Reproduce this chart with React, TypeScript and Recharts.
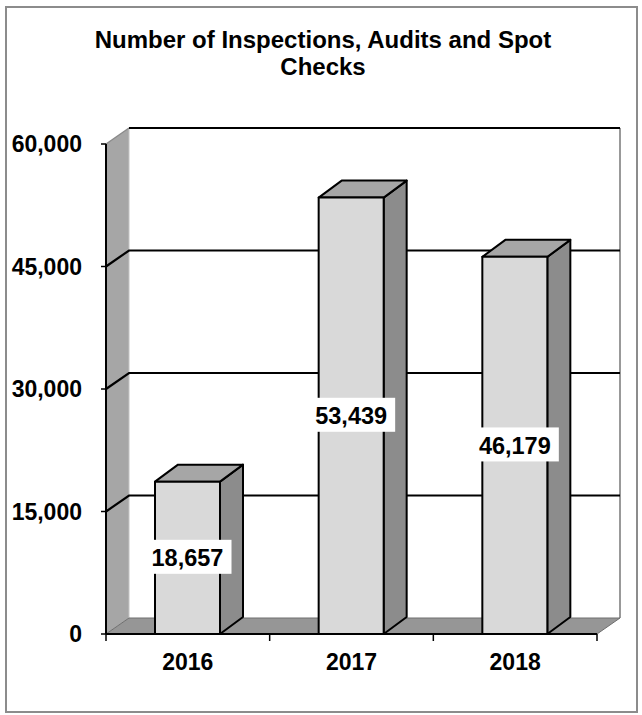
import React from 'react';
import { BarChart, Bar, XAxis, YAxis, CartesianGrid, LabelList } from 'recharts';

const YEARS = ['2016', '2017', '2018'];
const INSPECTIONS = [18657, 53439, 46179];
const Y_TICKS = [0, 15000, 30000, 45000, 60000];
const TITLE_LINES = ['Number of Inspections, Audits and Spot', 'Checks'];

const data = YEARS.map((year, i) => ({ year, value: INSPECTIONS[i] }));

const WIDTH = 642;
const HEIGHT = 715;
// front plane of the 3d box
const PLOT = { left: 106, top: 144, right: 597, bottom: 634 };
const Y_AXIS_W = 100;
const X_AXIS_H = 40;
const X_TICK_MARGIN = 20;
const WALL_DX = 23;
const WALL_DY = 16;
const BAR_DX = 23;
const BAR_DY = 17;

const FONT = '"Liberation Sans", Arial, Helvetica, sans-serif';
const fmt = (v: number) => Number(v).toLocaleString('en-US');

// walls, floor and back-wall gridlines, all drawn from the grid's line coords
const gridLine = (props: any) => {
  const { x1, y1, x, y, width, height } = props;
  const left = x ?? x1;
  const bottom = (y ?? PLOT.top) + (height ?? PLOT.bottom - PLOT.top);
  const top = y ?? PLOT.top;
  const right = left + (width ?? PLOT.right - PLOT.left);

  if (Math.abs(y1 - bottom) < 0.5) {
    return (
      <g key="walls">
        <polygon
          points={`${left},${top} ${left + WALL_DX},${top - WALL_DY} ${left + WALL_DX},${bottom - WALL_DY} ${left},${bottom}`}
          fill="#a6a6a6"
        />
        <rect x={left + WALL_DX} y={top - WALL_DY} width={right - left} height={bottom - top} fill="#fff" />
        <line x1={left + WALL_DX} x2={left + WALL_DX} y1={top - WALL_DY} y2={bottom - WALL_DY} stroke="#c4c4c4" strokeWidth={1} />
        <line x1={right + WALL_DX} x2={right + WALL_DX} y1={top - WALL_DY} y2={bottom - WALL_DY} stroke="#999" strokeWidth={2} />
        <line x1={left} y1={top} x2={left + WALL_DX} y2={top - WALL_DY} stroke="#8a8a8a" strokeWidth={1.5} />
        <polygon
          points={`${left},${bottom} ${left + WALL_DX},${bottom - WALL_DY} ${right + WALL_DX},${bottom - WALL_DY} ${right},${bottom}`}
          fill="#969696"
          stroke="#6e6e6e"
          strokeWidth={1}
        />
      </g>
    );
  }
  const isTop = Math.abs(y1 - top) < 0.5;
  const d = isTop
    ? `M${left + WALL_DX},${y1 - WALL_DY} L${right + WALL_DX},${y1 - WALL_DY}`
    : `M${left},${y1} L${left + WALL_DX},${y1 - WALL_DY} L${right + WALL_DX},${y1 - WALL_DY}`;
  return <path key={`g-${y1}`} d={d} stroke="#000" strokeWidth={2.2} fill="none" />;
};

const Box3D = (props: any) => {
  const { x, y, width, height } = props;
  if (!height || height <= 0) return null;
  const r = x + width;
  const b = y + height;
  return (
    <g stroke="#000" strokeWidth={2} strokeLinejoin="round">
      <polygon points={`${r},${y} ${r + BAR_DX},${y - BAR_DY} ${r + BAR_DX},${b - BAR_DY} ${r},${b}`} fill="#8c8c8c" />
      <polygon points={`${x},${y} ${x + BAR_DX},${y - BAR_DY} ${r + BAR_DX},${y - BAR_DY} ${r},${y}`} fill="#a6a6a6" />
      <rect x={x} y={y} width={width} height={height} fill="#d9d9d9" />
    </g>
  );
};

const ValueLabel = (props: any) => {
  const { x, y, width, height, value } = props;
  const cx = Number(x) + Number(width) / 2;
  const cy = Number(y) + Number(height) / 2;
  return (
    <g>
      <rect x={cx - 37} y={cy - 18} width={81} height={34} fill="#fff" />
      <text x={cx} y={cy} dy="0.36em" textAnchor="middle" fontSize={23.5} fontWeight={700} fill="#000">
        {fmt(value)}
      </text>
    </g>
  );
};

const YearTick = (props: any) => {
  const { x, y, payload, index, visibleTicksCount } = props;
  const half = payload?.offset || (PLOT.right - PLOT.left) / (2 * YEARS.length);
  const axisY = y - X_TICK_MARGIN;
  return (
    <g>
      <line x1={x - half} x2={x - half} y1={axisY} y2={axisY + 7} stroke="#000" strokeWidth={1.5} />
      {index === visibleTicksCount - 1 && (
        <line x1={x + half} x2={x + half} y1={axisY} y2={axisY + 7} stroke="#000" strokeWidth={1.5} />
      )}
      <text x={x} y={y} dy="0.71em" textAnchor="middle" fontSize={23} fontWeight={700} fill="#000">
        {payload.value}
      </text>
    </g>
  );
};

export default function App() {
  return (
    <div style={{ position: 'absolute', left: 0, top: 0, width: WIDTH, height: HEIGHT, background: '#fff', fontFamily: FONT }}>
      <div
        style={{
          position: 'absolute',
          left: 5,
          top: 6,
          width: 633,
          height: 707,
          boxSizing: 'border-box',
          border: '2px solid #8c8c8c',
        }}
      />
      <div
        style={{
          position: 'absolute',
          left: 0,
          top: 26,
          width: 646,
          textAlign: 'center',
          fontSize: 24,
          lineHeight: '27px',
          fontWeight: 700,
          color: '#000',
        }}
      >
        {TITLE_LINES[0]}
        <br />
        {TITLE_LINES[1]}
      </div>
      <div style={{ position: 'absolute', left: 0, top: 0 }}>
        <BarChart
          width={WIDTH}
          height={HEIGHT}
          data={data}
          margin={{
            top: PLOT.top,
            right: WIDTH - PLOT.right,
            bottom: HEIGHT - PLOT.bottom - X_AXIS_H,
            left: PLOT.left - Y_AXIS_W,
          }}
        >
          <CartesianGrid vertical={false} horizontal={gridLine} />
          <XAxis
            dataKey="year"
            height={X_AXIS_H}
            axisLine={{ stroke: '#000', strokeWidth: 2 }}
            tickLine={false}
            tickSize={0}
            tickMargin={X_TICK_MARGIN}
            tick={<YearTick />}
            interval={0}
          />
          <YAxis
            width={Y_AXIS_W}
            domain={[0, 60000]}
            ticks={Y_TICKS}
            tickFormatter={fmt}
            axisLine={{ stroke: '#000', strokeWidth: 2 }}
            tickLine={{ stroke: '#000', strokeWidth: 1.5 }}
            tickSize={5}
            tickMargin={19}
            tick={{ fill: '#000', fontSize: 23, fontWeight: 700 }}
          />
          <Bar dataKey="value" barSize={65} shape={<Box3D />} isAnimationActive={false}>
            <LabelList dataKey="value" content={<ValueLabel />} />
          </Bar>
        </BarChart>
      </div>
    </div>
  );
}
